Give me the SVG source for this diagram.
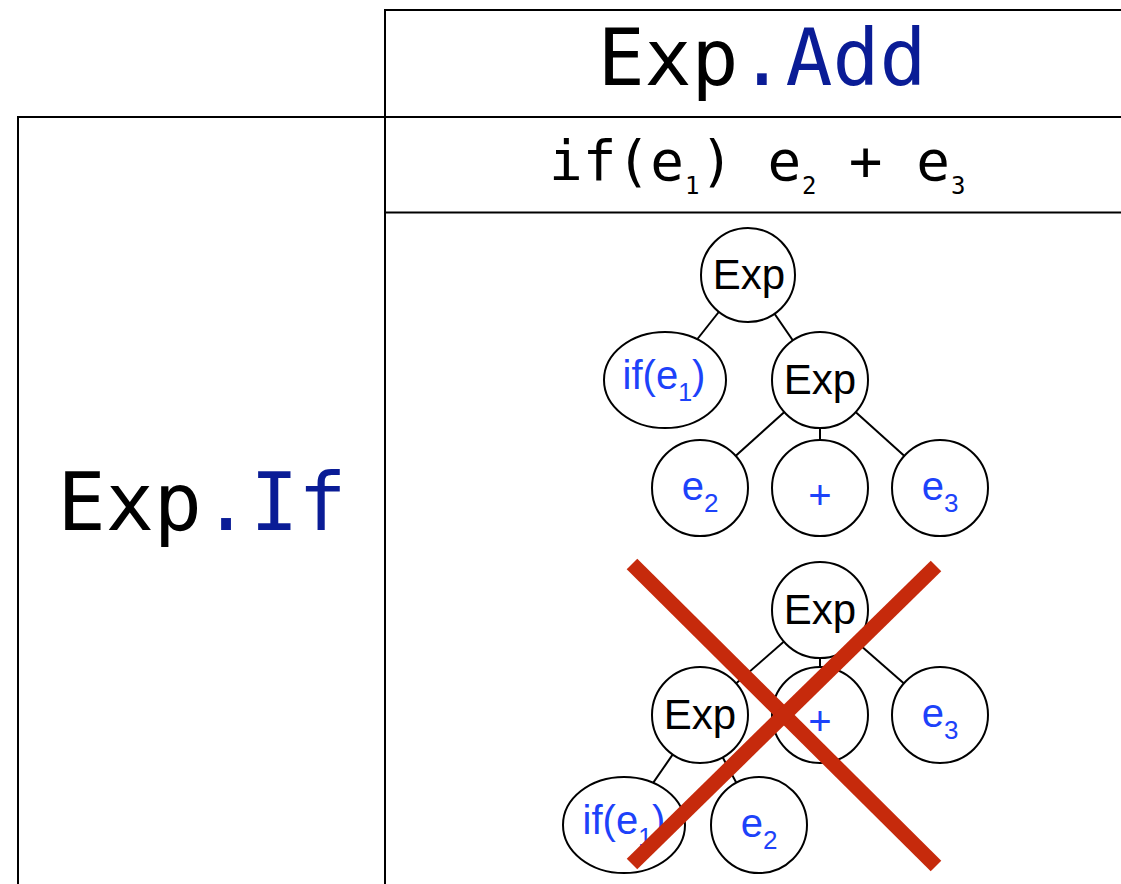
<svg xmlns="http://www.w3.org/2000/svg" width="1121" height="884" viewBox="0 0 1121 884">
<style>
.grid{stroke:#000;stroke-width:2;fill:none}
.mono{font-family:"DejaVu Sans Mono","Liberation Mono",monospace;fill:#000}
.kw{fill:#0a1c96}
.node{fill:#fff;stroke:#000;stroke-width:2}
.edge{stroke:#000;stroke-width:2}
.nt{font-family:"Liberation Sans",Arial,sans-serif;font-size:42px;fill:#000;text-anchor:middle}
.bt{font-family:"Liberation Sans",Arial,sans-serif;font-size:40px;fill:#1d42fa;text-anchor:middle}
.cross{stroke:#c62a0c;stroke-width:15;stroke-linecap:butt}
</style>
<rect width="1121" height="884" fill="#fff"/>
<g id="table">
<path class="grid" d="M385,884 V10 H1121 M18,884 V117 H1121 M385,212.5 H1121"/>
</g>
<g id="header-add">
<text class="mono" x="762" y="85" font-size="78" text-anchor="middle">Exp<tspan class="kw">.Add</tspan></text>
</g>
<g id="header-if">
<text class="mono" x="202" y="530" font-size="80" text-anchor="middle">Exp<tspan class="kw">.If</tspan></text>
</g>
<g id="expression">
<text class="mono" y="180" font-size="56"><tspan x="549">if(e</tspan><tspan x="685" y="194" font-size="24">1</tspan><tspan x="700" y="180">) e</tspan><tspan x="802" y="194" font-size="24">2</tspan><tspan x="815" y="180"> + e</tspan><tspan x="951" y="194" font-size="24">3</tspan></text>
</g>
<g id="connectors">
<line class="edge" x1="748" y1="275" x2="665" y2="380"/>
<line class="edge" x1="748" y1="275" x2="820" y2="380"/>
<line class="edge" x1="820" y1="380" x2="700" y2="488"/>
<line class="edge" x1="820" y1="380" x2="820" y2="488"/>
<line class="edge" x1="820" y1="380" x2="940" y2="488"/>
<line class="edge" x1="820" y1="610" x2="700" y2="715"/>
<line class="edge" x1="820" y1="610" x2="820" y2="715"/>
<line class="edge" x1="820" y1="610" x2="940" y2="715"/>
<line class="edge" x1="700" y1="715" x2="624" y2="825"/>
<line class="edge" x1="700" y1="715" x2="759" y2="825"/>
</g>
<g id="t1-root"><circle class="node" cx="748" cy="275" r="47"/><text class="nt" x="749" y="289">Exp</text></g>
<g id="t1-if"><ellipse class="node" cx="665" cy="380" rx="61" ry="48"/><text class="bt" x="664" y="389">if(e<tspan font-size="25" dy="12">1</tspan><tspan dy="-12">)</tspan></text></g>
<g id="t1-exp"><circle class="node" cx="820" cy="380" r="48"/><text class="nt" x="820" y="394">Exp</text></g>
<g id="t1-e2"><circle class="node" cx="700" cy="488" r="48"/><text class="bt" x="700" y="500">e<tspan font-size="26" dy="12">2</tspan></text></g>
<g id="t1-plus"><circle class="node" cx="820" cy="488" r="48"/><text class="bt" x="820" y="509">+</text></g>
<g id="t1-e3"><circle class="node" cx="940" cy="488" r="48"/><text class="bt" x="940" y="500">e<tspan font-size="26" dy="12">3</tspan></text></g>
<g id="t2-root"><circle class="node" cx="820" cy="610" r="48"/><text class="nt" x="820" y="624">Exp</text></g>
<g id="t2-exp"><circle class="node" cx="700" cy="715" r="48"/><text class="nt" x="700" y="729">Exp</text></g>
<g id="t2-plus"><circle class="node" cx="820" cy="715" r="48"/><text class="bt" x="820" y="735">+</text></g>
<g id="t2-e3"><circle class="node" cx="940" cy="715" r="48"/><text class="bt" x="940" y="727">e<tspan font-size="26" dy="12">3</tspan></text></g>
<g id="t2-if"><ellipse class="node" cx="624" cy="825" rx="61" ry="48"/><text class="bt" x="624" y="834">if(e<tspan font-size="25" dy="12">1</tspan><tspan dy="-12">)</tspan></text></g>
<g id="t2-e2"><circle class="node" cx="759" cy="825" r="48"/><text class="bt" x="759" y="837">e<tspan font-size="26" dy="12">2</tspan></text></g>
<g id="cross">
<line class="cross" x1="632" y1="564" x2="936" y2="866"/>
<line class="cross" x1="936" y1="566" x2="632" y2="864"/>
</g>
</svg>
